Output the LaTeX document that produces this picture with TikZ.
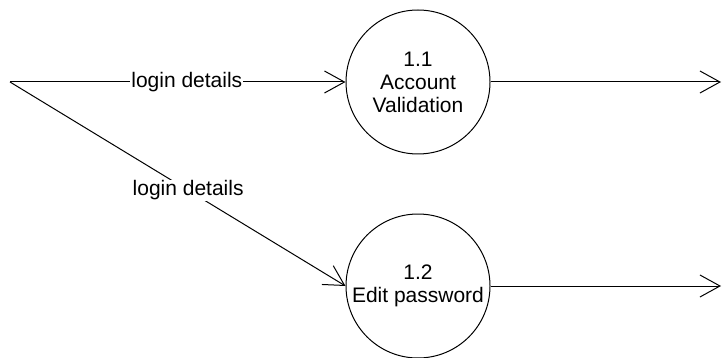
\documentclass[tikz,border=0pt]{standalone}
\usepackage{fontspec}
\setmainfont{Liberation Sans}
\usepackage{tikz}
\usetikzlibrary{arrows.meta, positioning}

\begin{document}
\begin{tikzpicture}[
    x=1pt, y=-1pt,
    process/.style={circle, draw=black, line width=1pt, minimum size=144pt, inner sep=0pt, font=\fontsize{21}{23}\selectfont, align=center},
    flowlabel/.style={font=\fontsize{21}{23}\selectfont, fill=white, inner sep=1pt},
    flow/.style={-{Straight Barb[length=20pt, width=22pt]}, line width=1pt}
]
    \useasboundingbox (0,0) rectangle (722,358);

    % Processes
    \node[process] (valid) at (418, 82) {1.1\\Account\\Validation};
    \node[process] (editpw) at (418, 286) {1.2\\Edit password};

    % End points
    \coordinate (src) at (10, 82);
    \coordinate (out1) at (721, 82);
    \coordinate (out2) at (721, 286);

    % Flows
    \draw[flow] (src) -- node[flowlabel, pos=0.527] (lbl1) {login details} (valid);
    \draw[flow] (src) -- node[flowlabel, pos=0.531] (lbl2) {login details} (editpw.west);

    \draw[flow] (valid) -- (out1);
    \draw[flow] (editpw) -- (out2);

\end{tikzpicture}
\end{document}
